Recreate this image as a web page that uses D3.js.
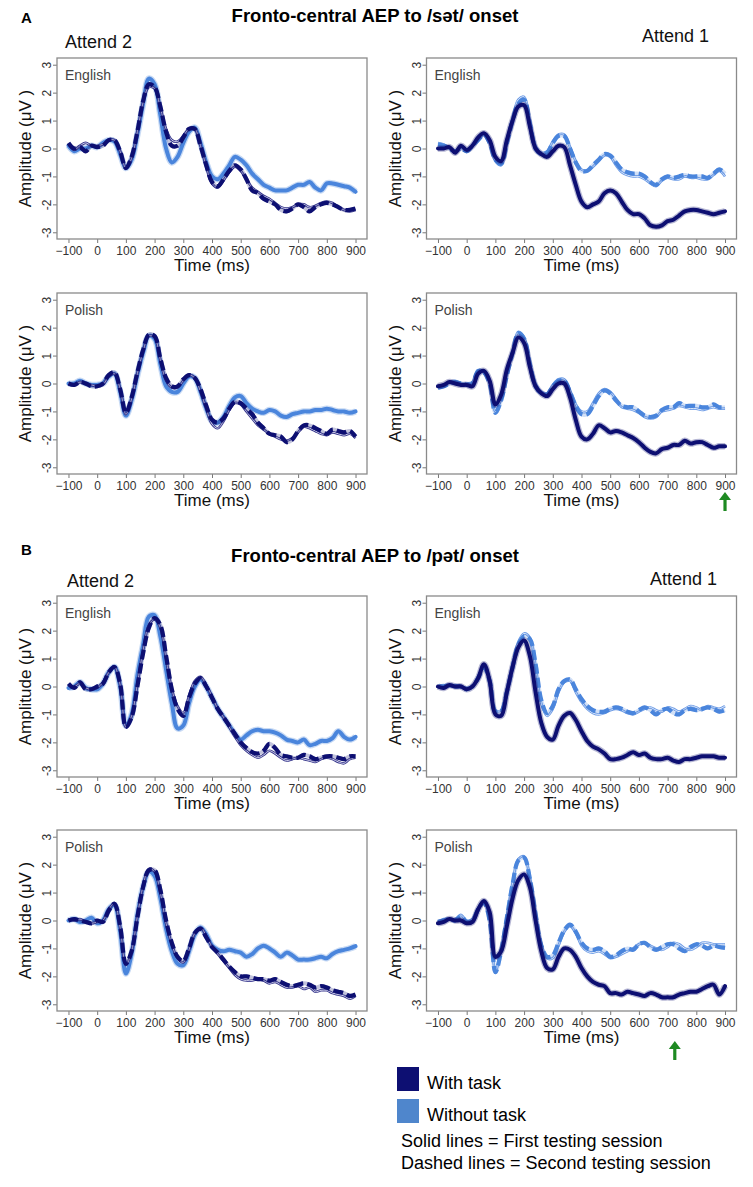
<!DOCTYPE html>
<html><head><meta charset="utf-8">
<script src="https://cdn.jsdelivr.net/npm/d3@7"></script>
<style>body{margin:0;background:#fff;} text{font-family:"Liberation Sans",Arial,Helvetica,sans-serif;}</style>
</head><body><svg id="c" width="753" height="1187"></svg>
<script>
// ---------- DATA ----------
const times = [-100,-80,-60,-40,-20,0,20,40,60,80,100,120,140,160,180,200,220,240,260,280,300,320,340,360,380,400,420,440,460,480,500,520,540,560,580,600,620,640,660,680,700,720,740,760,780,800,820,840,860,880,900];
const xTickValues = [-100,0,100,200,300,400,500,600,700,800,900];
const yTickValues = [-3,-2,-1,0,1,2,3];
const sectionLabels = ["A","B"];
const sectionTitles = ["Fronto-central AEP to /sət/ onset","Fronto-central AEP to /pət/ onset"];
const attendLabels = ["Attend 2","Attend 1"];
const languages = ["English","Polish"];
const legendLabels = ["With task","Without task"];
const legendNotes = ["Solid lines = First testing session","Dashed lines = Second testing session"];
const arrowTimes = [900, 725];

// Section A, English, Attend 2
const aEng2_without = [0.1,-0.1,0.0,0.0,0.1,0.05,0.2,0.3,0.25,-0.2,
 -0.7,-0.4,0.5,1.6,2.5,2.3,1.2,0.0,-0.5,-0.3,
 0.2,0.6,0.75,0.2,-0.5,-1.0,-1.1,-0.9,-0.6,-0.3,
 -0.4,-0.6,-0.9,-1.1,-1.3,-1.4,-1.5,-1.5,-1.5,-1.4,
 -1.3,-1.3,-1.2,-1.4,-1.5,-1.25,-1.25,-1.3,-1.35,-1.4,
 -1.55];
const aEng2_withS2 = [0.2,0.0,0.05,-0.1,0.1,0.05,0.1,0.3,0.3,-0.1,
 -0.7,-0.3,0.6,1.7,2.3,2.2,1.5,0.6,0.1,0.1,
 0.4,0.7,0.7,0.1,-0.6,-1.2,-1.35,-1.1,-0.8,-0.6,
 -0.75,-1.1,-1.5,-1.6,-1.8,-1.9,-2.0,-2.2,-2.25,-2.15,
 -2.0,-2.1,-2.25,-2.1,-2.0,-1.95,-2.0,-2.1,-2.2,-2.2,
 -2.15];
const aEng2_withS1 = [0.15,-0.05,0.1,0.2,0.1,0.1,0.15,0.3,0.3,-0.1,
 -0.7,-0.35,0.6,1.65,2.2,2.15,1.45,0.7,0.3,0.25,
 0.45,0.7,0.7,0.1,-0.65,-1.25,-1.4,-1.15,-0.85,-0.65,
 -0.8,-1.1,-1.4,-1.55,-1.7,-1.8,-1.95,-2.1,-2.15,-2.1,
 -2.0,-2.0,-2.1,-2.05,-1.95,-1.9,-1.95,-2.1,-2.2,-2.25,
 -2.2];
// Section A, English, Attend 1
const aEng1_with = [0.0,0.0,0.05,-0.15,0.1,-0.05,0.1,0.4,0.55,0.3,
 -0.3,-0.45,0.3,1.0,1.5,1.55,0.8,0.0,-0.2,-0.3,
 -0.1,0.1,0.05,-0.6,-1.3,-1.9,-2.1,-2.0,-1.9,-1.6,
 -1.5,-1.6,-1.9,-2.2,-2.35,-2.35,-2.5,-2.75,-2.8,-2.75,
 -2.6,-2.55,-2.4,-2.25,-2.2,-2.2,-2.25,-2.3,-2.35,-2.3,
 -2.25];
const aEng1_withoutS2 = [0.15,0.1,0.0,-0.1,0.0,-0.1,0.1,0.3,0.5,0.2,
 -0.4,-0.55,0.2,1.0,1.6,1.75,0.9,0.0,-0.2,-0.15,
 0.2,0.45,0.45,0.0,-0.5,-0.8,-0.8,-0.6,-0.4,-0.2,
 -0.25,-0.5,-0.75,-0.85,-0.9,-0.9,-1.0,-1.2,-1.3,-1.1,
 -1.0,-1.05,-1.0,-0.95,-1.0,-1.0,-1.0,-1.05,-0.9,-0.75,
 -0.9];
const aEng1_withoutS1 = [0.2,0.15,0.0,-0.15,0.05,-0.1,0.1,0.3,0.5,0.2,
 -0.45,-0.6,0.25,1.1,1.75,1.85,1.0,0.1,-0.15,-0.1,
 0.25,0.5,0.5,0.05,-0.45,-0.75,-0.8,-0.65,-0.45,-0.25,
 -0.3,-0.6,-0.85,-0.95,-1.0,-1.0,-1.1,-1.25,-1.35,-1.15,
 -1.05,-1.1,-1.1,-1.0,-1.05,-1.05,-1.1,-1.1,-0.95,-0.8,
 -1.0];
// Section A, Polish, Attend 2
const aPol2_without = [0.0,0.0,0.1,0.0,-0.05,-0.05,0.0,0.25,0.35,-0.3,
 -1.15,-0.6,0.3,1.1,1.7,1.6,0.7,-0.1,-0.3,-0.3,
 0.0,0.25,0.2,-0.3,-0.9,-1.35,-1.4,-1.2,-0.8,-0.5,
 -0.45,-0.7,-0.9,-1.0,-1.05,-0.95,-1.0,-1.15,-1.2,-1.1,
 -1.05,-1.0,-1.0,-0.95,-0.95,-0.9,-0.95,-1.0,-1.0,-1.05,
 -1.0];
const aPol2_withS2 = [0.0,-0.05,0.05,0.0,-0.1,-0.1,0.0,0.3,0.4,-0.2,
 -1.05,-0.5,0.4,1.2,1.75,1.7,0.9,0.2,-0.1,-0.1,
 0.15,0.3,0.2,-0.2,-0.8,-1.3,-1.4,-1.25,-0.9,-0.65,
 -0.7,-0.9,-1.1,-1.4,-1.6,-1.8,-1.85,-1.9,-2.1,-2.0,
 -1.7,-1.5,-1.5,-1.6,-1.7,-1.8,-1.65,-1.7,-1.75,-1.7,
 -1.9];
const aPol2_withS1 = [0.0,-0.05,0.05,0.0,-0.05,-0.1,-0.05,0.25,0.35,-0.2,
 -1.1,-0.55,0.35,1.15,1.7,1.65,0.85,0.1,-0.15,-0.15,
 0.1,0.3,0.2,-0.3,-0.9,-1.45,-1.6,-1.35,-0.95,-0.7,
 -0.75,-1.0,-1.25,-1.5,-1.65,-1.8,-1.9,-2.0,-2.05,-1.95,
 -1.75,-1.55,-1.6,-1.7,-1.8,-1.85,-1.75,-1.8,-1.85,-1.8,
 -1.95];
// Section A, Polish, Attend 1
const aPol1_with = [-0.1,-0.05,0.05,0.0,-0.05,-0.05,-0.1,0.35,0.45,0.1,
 -0.75,-0.4,0.5,1.1,1.65,1.45,0.6,-0.1,-0.35,-0.45,
 -0.2,0.0,0.0,-0.5,-1.3,-1.9,-2.0,-1.8,-1.5,-1.6,
 -1.75,-1.7,-1.75,-1.85,-1.95,-2.1,-2.3,-2.45,-2.5,-2.35,
 -2.3,-2.2,-2.2,-2.05,-2.15,-2.1,-2.1,-2.2,-2.3,-2.25,
 -2.25];
const aPol1_withoutS2 = [-0.15,-0.1,0.0,0.05,0.0,-0.05,0.0,0.45,0.4,0.0,
 -1.05,-0.6,0.3,1.1,1.8,1.6,0.7,-0.1,-0.35,-0.4,
 -0.1,0.1,0.1,-0.3,-0.8,-1.1,-1.1,-0.8,-0.45,-0.25,
 -0.35,-0.6,-0.8,-0.85,-0.85,-1.0,-1.15,-1.2,-1.15,-0.95,
 -0.85,-0.85,-0.7,-0.8,-0.8,-0.8,-0.85,-0.85,-0.75,-0.85,
 -0.85];
const aPol1_withoutS1 = [-0.1,-0.05,0.05,0.1,0.0,0.0,0.05,0.45,0.45,0.05,
 -1.0,-0.55,0.35,1.15,1.85,1.65,0.75,0.0,-0.3,-0.35,
 -0.05,0.15,0.15,-0.25,-0.75,-1.0,-1.0,-0.7,-0.35,-0.2,
 -0.3,-0.55,-0.85,-0.9,-0.95,-1.05,-1.2,-1.25,-1.2,-1.0,
 -0.95,-0.9,-0.8,-0.85,-0.9,-0.9,-0.95,-0.9,-0.85,-0.9,
 -0.9];
// Section B, English, Attend 2
const bEng2_without = [-0.05,0.0,0.15,-0.05,-0.1,-0.1,0.1,0.5,0.7,0.0,
 -1.4,-1.0,0.4,1.5,2.5,2.55,1.8,0.6,-0.6,-1.5,
 -1.4,-0.6,0.0,0.25,0.0,-0.4,-0.8,-1.1,-1.4,-1.7,
 -1.9,-1.75,-1.6,-1.55,-1.6,-1.6,-1.65,-1.75,-1.9,-1.95,
 -2.0,-1.9,-2.1,-2.05,-1.95,-1.95,-1.85,-1.6,-1.8,-1.9,
 -1.8];
const bEng2_withS2 = [0.1,-0.05,0.15,-0.1,-0.1,0.0,0.1,0.5,0.7,0.1,
 -1.45,-1.1,0.0,1.2,2.1,2.45,2.2,1.1,-0.1,-0.8,
 -1.05,-0.4,0.1,0.3,0.0,-0.4,-0.8,-1.1,-1.4,-1.7,
 -2.0,-2.2,-2.35,-2.4,-2.3,-2.05,-2.2,-2.45,-2.5,-2.55,
 -2.55,-2.45,-2.5,-2.6,-2.55,-2.5,-2.5,-2.55,-2.6,-2.5,
 -2.5];
const bEng2_withS1 = [0.05,0.0,0.1,-0.05,-0.1,-0.05,0.15,0.5,0.7,0.05,
 -1.45,-1.05,0.1,1.3,2.2,2.4,2.1,1.0,-0.1,-0.7,
 -0.95,-0.35,0.2,0.35,0.05,-0.35,-0.8,-1.1,-1.45,-1.8,
 -2.1,-2.3,-2.45,-2.55,-2.45,-2.3,-2.4,-2.55,-2.65,-2.6,
 -2.55,-2.6,-2.65,-2.7,-2.6,-2.55,-2.6,-2.7,-2.75,-2.6,
 -2.55];
// Section B, English, Attend 1
const bEng1_with = [0.0,-0.05,0.05,0.0,0.0,-0.1,0.0,0.3,0.8,0.2,
 -1.0,-1.05,-0.2,0.7,1.4,1.65,1.1,-0.2,-1.3,-1.8,
 -1.9,-1.4,-1.05,-0.95,-1.2,-1.6,-1.95,-2.15,-2.25,-2.4,
 -2.6,-2.6,-2.55,-2.45,-2.35,-2.45,-2.4,-2.55,-2.6,-2.6,
 -2.55,-2.65,-2.7,-2.6,-2.6,-2.55,-2.5,-2.5,-2.5,-2.55,
 -2.55];
const bEng1_withoutS2 = [0.0,0.0,0.05,0.0,0.0,-0.1,0.0,0.3,0.7,0.2,
 -0.9,-0.9,-0.2,0.7,1.5,1.8,1.7,0.8,-0.5,-0.95,
 -0.7,-0.1,0.2,0.25,-0.1,-0.45,-0.7,-0.85,-0.9,-0.9,
 -0.8,-0.75,-0.8,-0.9,-0.95,-0.85,-0.75,-0.85,-1.0,-0.85,
 -0.8,-0.95,-1.0,-0.85,-0.8,-0.85,-0.8,-0.75,-0.8,-0.9,
 -0.85];
const bEng1_withoutS1 = [0.0,0.05,0.0,0.05,0.0,-0.05,0.0,0.35,0.75,0.25,
 -0.85,-0.85,-0.1,0.8,1.6,1.9,1.75,0.7,-0.6,-1.05,
 -0.8,-0.2,0.15,0.2,-0.2,-0.55,-0.8,-0.95,-1.0,-0.95,
 -0.85,-0.8,-0.85,-0.95,-1.0,-0.9,-0.8,-0.75,-0.85,-0.9,
 -0.75,-0.8,-0.9,-0.8,-0.7,-0.75,-0.85,-0.7,-0.75,-0.8,
 -0.7];
// Section B, Polish, Attend 2
const bPol2_without = [0.0,0.05,-0.05,0.0,0.1,-0.1,0.0,0.4,0.55,-0.4,
 -1.9,-1.2,0.2,1.2,1.75,1.6,0.8,-0.3,-1.1,-1.55,
 -1.6,-1.1,-0.5,-0.25,-0.5,-0.9,-1.05,-1.1,-1.05,-1.1,
 -1.15,-1.3,-1.2,-1.0,-0.9,-1.0,-1.15,-1.3,-1.15,-1.25,
 -1.4,-1.4,-1.4,-1.35,-1.3,-1.35,-1.2,-1.1,-1.05,-1.0,
 -0.92];
const bPol2_withS2 = [0.0,0.05,0.0,-0.05,-0.1,0.0,-0.05,0.35,0.6,-0.2,
 -1.55,-1.1,0.1,1.2,1.8,1.8,1.1,0.0,-0.8,-1.3,
 -1.45,-1.0,-0.45,-0.3,-0.6,-0.95,-1.15,-1.4,-1.65,-1.85,
 -2.0,-2.0,-2.05,-2.1,-2.1,-2.15,-2.1,-2.2,-2.3,-2.35,
 -2.3,-2.25,-2.3,-2.4,-2.35,-2.4,-2.5,-2.55,-2.6,-2.7,
 -2.65];
const bPol2_withS1 = [0.05,0.0,0.05,-0.05,-0.1,-0.05,0.0,0.4,0.6,-0.25,
 -1.6,-1.1,0.15,1.25,1.85,1.75,1.0,-0.1,-0.85,-1.35,
 -1.5,-1.05,-0.45,-0.25,-0.55,-0.95,-1.2,-1.45,-1.7,-1.95,
 -2.1,-2.15,-2.15,-2.1,-2.15,-2.25,-2.2,-2.3,-2.4,-2.4,
 -2.35,-2.45,-2.4,-2.55,-2.5,-2.5,-2.6,-2.65,-2.7,-2.8,
 -2.7];
// Section B, Polish, Attend 1
const bPol1_with = [-0.1,-0.05,0.05,0.0,0.0,-0.1,-0.05,0.4,0.7,0.3,
 -1.3,-1.1,-0.2,0.8,1.45,1.65,1.2,0.0,-1.1,-1.7,
 -1.75,-1.3,-1.0,-1.05,-1.3,-1.7,-2.0,-2.2,-2.3,-2.35,
 -2.6,-2.6,-2.65,-2.55,-2.6,-2.65,-2.7,-2.6,-2.65,-2.75,
 -2.75,-2.75,-2.65,-2.6,-2.55,-2.55,-2.45,-2.35,-2.3,-2.65,
 -2.35];
const bPol1_withoutS2 = [-0.05,0.0,0.05,0.0,0.15,-0.05,0.0,0.4,0.65,0.0,
 -1.85,-1.1,0.1,1.3,2.15,2.25,1.5,0.2,-0.9,-1.3,
 -1.25,-0.8,-0.35,-0.15,-0.4,-0.8,-1.0,-1.05,-1.0,-1.1,
 -1.3,-1.25,-1.1,-1.0,-1.05,-0.85,-0.8,-0.95,-1.05,-0.95,
 -0.85,-0.85,-1.0,-1.1,-0.95,-0.85,-0.9,-1.0,-0.9,-0.95,
 -0.98];
const bPol1_withoutS1 = [-0.05,0.05,0.05,0.05,0.2,0.0,0.05,0.45,0.7,0.05,
 -1.8,-1.05,0.15,1.35,2.2,2.3,1.55,0.25,-0.85,-1.35,
 -1.35,-0.9,-0.4,-0.2,-0.45,-0.9,-1.1,-1.15,-1.1,-1.2,
 -1.35,-1.3,-1.2,-1.1,-1.0,-0.85,-0.8,-0.9,-1.0,-1.05,
 -0.95,-0.8,-0.85,-1.0,-1.05,-0.95,-0.8,-0.8,-0.85,-0.85,
 -0.85];

// panel description: single = one thick solid series; s1 thin solid, s2 thick dashed
const panels = [
  {sec:0,row:0,col:0,lang:0,group:"without",single:aEng2_without,s1:aEng2_withS1,s2:aEng2_withS2},
  {sec:0,row:0,col:1,lang:0,group:"with",single:aEng1_with,s1:aEng1_withoutS1,s2:aEng1_withoutS2},
  {sec:0,row:1,col:0,lang:1,group:"without",single:aPol2_without,s1:aPol2_withS1,s2:aPol2_withS2},
  {sec:0,row:1,col:1,lang:1,group:"with",single:aPol1_with,s1:aPol1_withoutS1,s2:aPol1_withoutS2},
  {sec:1,row:0,col:0,lang:0,group:"without",single:bEng2_without,s1:bEng2_withS1,s2:bEng2_withS2},
  {sec:1,row:0,col:1,lang:0,group:"with",single:bEng1_with,s1:bEng1_withoutS1,s2:bEng1_withoutS2},
  {sec:1,row:1,col:0,lang:1,group:"without",single:bPol2_without,s1:bPol2_withS1,s2:bPol2_withS2},
  {sec:1,row:1,col:1,lang:1,group:"with",single:bPol1_with,s1:bPol1_withoutS1,s2:bPol1_withoutS2}
];

// ---------- LAYOUT / STYLE ----------
const NAVY = "#0d0f72", LIGHT = "#4a85dc";
const colX = [57, 426.5], boxW = 310, boxH = 181;
const rowTop = [[58, 293],[596, 830]];
const FONT = '"Liberation Sans",Arial,Helvetica,sans-serif';

const svg = d3.select("#c");

// section headers
const secLabelY = [23, 555], secTitleY = [22, 562];
const attY = [[48, 42],[587, 585]];
const attX = [[65, 642],[67, 650]];
sectionLabels.forEach((s,i)=>{
  svg.append("text").attr("x",21).attr("y",secLabelY[i]).attr("font-size",15).attr("font-weight","bold").text(s);
  svg.append("text").attr("x",375).attr("y",secTitleY[i]).attr("text-anchor","middle").attr("font-size",18.5).attr("font-weight","bold").text(sectionTitles[i]);
  attendLabels.forEach((a,j)=>{
    svg.append("text").attr("x",attX[i][j]).attr("y",attY[i][j]).attr("font-size",18).attr("fill","#111").text(a);
  });
});

panels.forEach(p=>{
  const x0 = colX[p.col], top = rowTop[p.sec][p.row];
  const x = d3.scaleLinear().domain([-140, 940]).range([x0, x0+boxW]);
  const y = d3.scaleLinear().domain([-3.24, 3.24]).range([top+boxH, top]);
  const g = svg.append("g");

  // x axis
  const xa = g.append("g").attr("transform",`translate(0,${top+boxH})`)
    .call(d3.axisBottom(x).tickValues(xTickValues).tickSize(4).tickPadding(3)
      .tickFormat(d=> d<0 ? "\u2212"+Math.abs(d) : String(d)));
  xa.select(".domain").remove();
  xa.selectAll("line").attr("stroke","#777");
  xa.selectAll("text").attr("font-size",12).attr("font-family",FONT).attr("fill","#333");

  // y axis
  const ya = g.append("g").attr("transform",`translate(${x0},0)`)
    .call(d3.axisLeft(y).tickValues(yTickValues).tickSize(4).tickFormat(d=>String(d)));
  ya.select(".domain").remove();
  ya.selectAll("line").attr("stroke","#777");
  ya.selectAll("text").attr("font-size",12).attr("font-family",FONT).attr("fill","#333")
    .attr("text-anchor","middle").attr("x",0).attr("dy",0)
    .attr("transform","translate(-6,0) rotate(-90)");

  // box
  g.append("rect").attr("x",x0).attr("y",top).attr("width",boxW).attr("height",boxH)
    .attr("fill","none").attr("stroke","#8a8a8a").attr("stroke-width",1.3);

  // axis titles
  g.append("text").attr("x",(x0+x0+boxW)/2).attr("y",top+boxH+32).attr("text-anchor","middle")
    .attr("font-size",17).attr("fill","#111").text("Time (ms)");
  g.append("text").attr("transform",`translate(${x0-26},${top+boxH/2}) rotate(-90)`)
    .attr("text-anchor","middle").attr("font-size",17).attr("fill","#111").text("Amplitude (\u03bcV )");
  g.append("text").attr("x",x0+8).attr("y",top+22).attr("font-size",14).attr("fill","#444").text(languages[p.lang]);

  const line = d3.line().x((d,i)=>x(times[i])).y(d=>y(d)).curve(d3.curveCatmullRom.alpha(0.5));
  const clip = g.append("g");

  const singleColor = p.group==="with" ? NAVY : LIGHT;
  const pairColor = p.group==="with" ? LIGHT : NAVY;
  const thinOuter = p.group==="with" ? "#6e9ce6" : "#3a3a8e";
  const thinInner = p.group==="with" ? "#e2ecfb" : "#cfcfea";

  function drawSingle(){
    clip.append("path").attr("d",line(p.single)).attr("fill","none").attr("stroke",singleColor)
      .attr("stroke-opacity",0.3).attr("stroke-width",6.5).attr("stroke-linejoin","round");
    clip.append("path").attr("d",line(p.single)).attr("fill","none").attr("stroke",singleColor)
      .attr("stroke-width",4).attr("stroke-linejoin","round").attr("stroke-linecap","round");
  }
  function drawPair(){
    clip.append("path").attr("d",line(p.s1)).attr("fill","none").attr("stroke",thinOuter)
      .attr("stroke-width",2.6).attr("stroke-linejoin","round");
    clip.append("path").attr("d",line(p.s1)).attr("fill","none").attr("stroke",thinInner)
      .attr("stroke-width",1).attr("stroke-linejoin","round");
    clip.append("path").attr("d",line(p.s2)).attr("fill","none").attr("stroke",pairColor)
      .attr("stroke-opacity",0.25).attr("stroke-width",4).attr("stroke-linejoin","round");
    clip.append("path").attr("d",line(p.s2)).attr("fill","none").attr("stroke",pairColor)
      .attr("stroke-width",4.2).attr("stroke-dasharray","10,4").attr("stroke-linejoin","round");
  }
  if (p.group==="without"){ drawSingle(); drawPair(); }
  else { drawPair(); drawSingle(); }

  // arrows under Attend 1 Polish panels
  if (p.col===1 && p.row===1){
    const ax = x(arrowTimes[p.sec]);
    const ayTop = p.sec===0 ? top+boxH+18 : top+boxH+30;
    const ayBot = ayTop+19;
    g.append("line").attr("x1",ax).attr("x2",ax).attr("y1",ayTop+6).attr("y2",ayBot)
      .attr("stroke","#1e8a22").attr("stroke-width",3.2);
    g.append("path").attr("d",`M${ax},${ayTop} L${ax-6},${ayTop+8} L${ax+6},${ayTop+8} Z`).attr("fill","#1e8a22");
  }
});

// legend
const legColors = [NAVY, "#4f86cc"];
const legY = [1067, 1099];
legendLabels.forEach((l,i)=>{
  svg.append("rect").attr("x",397).attr("y",legY[i]).attr("width",22).attr("height",24).attr("fill",legColors[i]);
  svg.append("text").attr("x",427).attr("y",legY[i]+22).attr("font-size",18).text(l);
});
const noteY = [1147, 1169];
legendNotes.forEach((n,i)=>{
  svg.append("text").attr("x",401).attr("y",noteY[i]).attr("font-size",18).text(n);
});
</script></body></html>
